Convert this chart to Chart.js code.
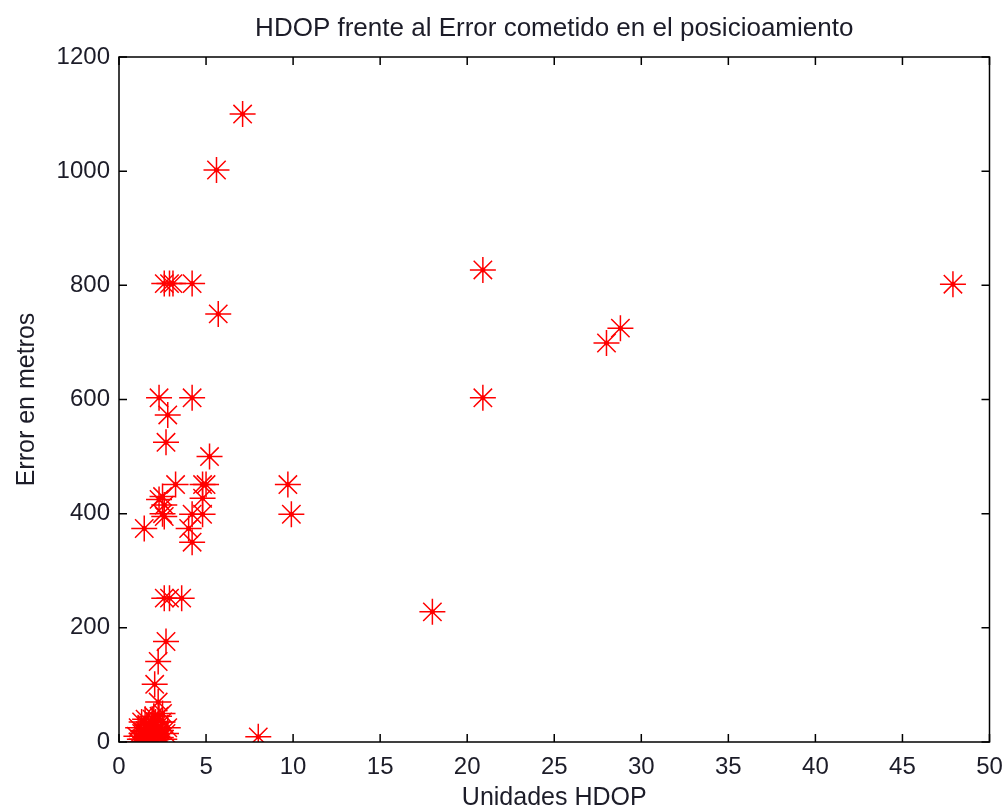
<!DOCTYPE html>
<html>
<head>
<meta charset="utf-8">
<script src="https://cdn.jsdelivr.net/npm/chart.js@4.4.1/dist/chart.umd.min.js"></script>
<style>
  html, body { margin: 0; padding: 0; background: #fff; }
  #wrap { width: 1004px; height: 810px; }
</style>
</head>
<body>
<div id="wrap"><canvas id="hdopChart" width="1004" height="810"></canvas></div>
<script>
// values
const hdop = [
  7.1, 5.6,
  2.6, 2.9, 3.1, 4.2,
  5.7,
  2.3, 4.2,
  2.8, 2.7, 5.2,
  3.25, 4.8, 5.0, 9.7,
  2.5, 2.3, 2.6, 4.8,
  2.5, 2.6, 4.2, 4.8, 9.9,
  1.45, 4.0, 4.2,
  2.6, 2.9, 3.6,
  2.7, 2.25, 2.05, 2.25,
  8.0, 18.0, 20.9, 20.9, 28.0, 28.8, 47.9,
  1.0, 1.1, 1.2, 1.3, 1.3, 1.4, 1.5, 1.5, 1.6, 1.7, 1.7, 1.8,
  1.9, 1.9, 2.0, 2.1, 2.2, 2.3, 2.4, 2.5, 2.6, 2.7, 2.5,
  1.1, 1.3, 1.4, 1.6, 1.6, 1.8, 1.9, 2.0, 2.1, 2.2, 1.5, 2.0, 2.4, 1.7, 2.8
];
const errorMetros = [
  1100, 1002,
  803, 803, 803, 803,
  750,
  603, 603,
  573, 525, 500,
  451, 451, 451, 451,
  430, 425, 415, 427,
  400, 395, 399, 399, 399,
  374, 374, 350,
  252, 252, 252,
  176, 141, 101, 70,
  9, 228, 827, 603, 699, 725, 802,
  10, 25, 5, 15, 35, 0, 20, 8, 30, 12, 2, 22,
  40, 5, 15, 28, 10, 45, 20, 35, 5, 15, 50,
  0, 5, 18, 3, 12, 8, 25, 0, 35, 20, 40, 45, 8, 30, 25
];
const xTicks = [0, 5, 10, 15, 20, 25, 30, 35, 40, 45, 50];
const yTicks = [0, 200, 400, 600, 800, 1000, 1200];

const points = hdop.map((h, i) => ({ x: h, y: errorMetros[i] }));
const textColor = '#1c1c28';

// box round the plot with inward ticks on all four sides, MATLAB style
const boxPlugin = {
  id: 'boxPlugin',
  afterDraw(chart) {
    const ctx = chart.ctx;
    const a = chart.chartArea;
    const xs = chart.scales.x, ys = chart.scales.y;
    const len = 8;
    ctx.save();
    ctx.strokeStyle = '#000';
    ctx.lineWidth = 1.5;
    ctx.strokeRect(a.left, a.top, a.right - a.left, a.bottom - a.top);
    ctx.beginPath();
    xTicks.forEach(v => {
      const px = xs.getPixelForValue(v);
      ctx.moveTo(px, a.bottom); ctx.lineTo(px, a.bottom - len);
      ctx.moveTo(px, a.top); ctx.lineTo(px, a.top + len);
    });
    yTicks.forEach(v => {
      const py = ys.getPixelForValue(v);
      ctx.moveTo(a.left, py); ctx.lineTo(a.left + len, py);
      ctx.moveTo(a.right, py); ctx.lineTo(a.right - len, py);
    });
    ctx.stroke();
    ctx.restore();
  }
};

const hdopChart = new Chart(document.getElementById('hdopChart'), {
  type: 'scatter',
  data: {
    datasets: [{
      label: 'Error',
      data: points,
      pointStyle: 'star',
      pointRadius: 13,
      pointBorderColor: '#ff0000',
      pointBorderWidth: 1.5,
      pointBackgroundColor: '#ff0000'
    }, {
      label: 'centro',
      data: points,
      pointStyle: 'circle',
      pointRadius: 2.5,
      pointBorderWidth: 0,
      pointBackgroundColor: '#ff0000'
    }]
  },
  options: {
    responsive: false,
    animation: false,
    layout: { padding: { left: 8, right: 0, top: 0, bottom: 0 } },
    plugins: {
      legend: { display: false },
      tooltip: { enabled: false },
      title: {
        display: true,
        fullSize: false,
        text: 'HDOP frente al Error cometido en el posicioamiento',
        color: textColor,
        font: { family: 'Liberation Sans', size: 26, weight: 'normal' },
        padding: { top: 13, bottom: 12.8 }
      }
    },
    scales: {
      x: {
        type: 'linear',
        min: 0, max: 50,
        afterBuildTicks: s => { s.ticks = xTicks.map(v => ({ value: v })); },
        afterFit: s => { s.height = 68; s.paddingRight = 11; },
        grid: { display: false, drawTicks: false },
        border: { display: false },
        ticks: {
          color: textColor,
          padding: 11,
          callback: v => String(v),
          font: { family: 'Liberation Sans', size: 24 }
        },
        title: {
          display: true,
          text: 'Unidades HDOP',
          color: textColor,
          font: { family: 'Liberation Sans', size: 25 },
          padding: { top: 0, bottom: -3 }
        }
      },
      y: {
        type: 'linear',
        min: 0, max: 1200,
        afterBuildTicks: s => { s.ticks = yTicks.map(v => ({ value: v })); },
        afterFit: s => { s.width = 111; },
        grid: { display: false, drawTicks: false },
        border: { display: false },
        ticks: {
          color: textColor,
          padding: 9,
          callback: v => String(v),
          font: { family: 'Liberation Sans', size: 24 }
        },
        title: {
          display: true,
          text: 'Error en metros',
          color: textColor,
          font: { family: 'Liberation Sans', size: 25 },
          padding: { top: 4, bottom: 0 }
        }
      }
    }
  },
  plugins: [boxPlugin]
});
</script>
</body>
</html>
